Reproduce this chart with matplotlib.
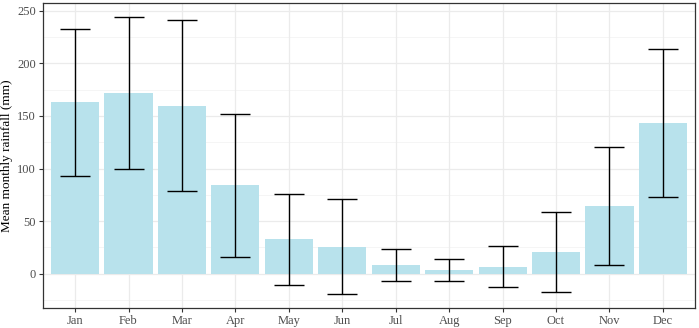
import matplotlib.pyplot as plt
import numpy as np

plt.rcParams['font.family'] = ['Liberation Serif', 'DejaVu Serif']

months = ['Jan', 'Feb', 'Mar', 'Apr', 'May', 'Jun',
          'Jul', 'Aug', 'Sep', 'Oct', 'Nov', 'Dec']
mean_rain = [162.7, 171.9, 159.6, 84.0, 32.9, 25.9, 8.5, 3.8, 6.9, 20.9, 64.5, 143.0]
sd_rain = [70.0, 72.2, 81.0, 67.8, 43.2, 45.5, 15.2, 10.2, 19.3, 38.2, 56.0, 70.2]

fig = plt.figure(figsize=(6.99, 3.28), dpi=100)
ax = fig.add_axes([43 / 699, 20 / 328, 652 / 699, 305 / 328])

x = np.arange(1, len(months) + 1)
mean = np.array(mean_rain)
sd = np.array(sd_rain)

# 网格
for v in np.arange(-25, 275, 50):
    ax.axhline(v, color='#F2F2F2', linewidth=0.5, zorder=0)
for v in np.arange(0, 300, 50):
    ax.axhline(v, color='#EBEBEB', linewidth=0.9, zorder=0)
for v in x:
    ax.axvline(v, color='#EBEBEB', linewidth=0.9, zorder=0)

ax.bar(x, mean, width=0.9, color='#B8E2EC', zorder=2)
ax.errorbar(x, mean, yerr=sd, fmt='none', ecolor='black', elinewidth=1.0,
            capsize=10.5, capthick=1.0, zorder=3)

ax.set_xlim(0.4, 12.6)
ax.set_ylim(-32.5, 257.2)
ax.set_xticks(x)
ax.set_xticklabels(months)
ax.set_yticks(np.arange(0, 300, 50))
ax.tick_params(axis='both', length=3, width=0.8, color='#333333',
               labelcolor='#4D4D4D', labelsize=9, pad=2)
ax.set_ylabel('Mean monthly rainfall (mm)', fontsize=9.5, labelpad=3)

for s in ax.spines.values():
    s.set_color('#333333')
    s.set_linewidth(0.9)

fig.savefig('out.png', dpi=100)
